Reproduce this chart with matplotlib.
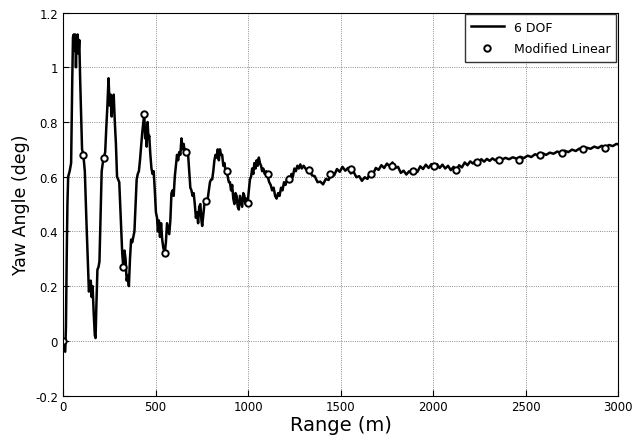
import numpy as np
import matplotlib
matplotlib.use("Agg")
import matplotlib.pyplot as plt
from matplotlib.ticker import FuncFormatter

# 6 DOF trajectory (two pieces)
range_early = [
    0, 6, 12, 16, 20, 24, 28, 36, 44, 50, 54, 58, 62, 66, 70, 74, 79, 84, 88, 93,
    98, 103, 110, 118, 126, 134, 140, 146, 150, 155, 160, 166, 172, 176, 180, 186,
    192, 197, 203, 209, 215, 221, 228, 234, 240, 246, 252, 258, 263, 268, 274, 280,
    286, 292, 298, 304, 312, 320, 326, 332, 338, 344, 350, 356, 362, 368, 374, 380,
    386, 392, 398, 404, 410, 416, 422, 428, 434, 439, 444, 448, 452, 457, 462, 466,
    472, 478, 484, 490, 496, 502, 508, 513, 518, 524, 530, 536, 542, 550, 556, 562,
    568, 574, 580, 586, 592, 598, 604, 610, 616, 622, 628, 634, 640, 646, 652, 658,
    664, 670, 676, 682, 688, 694, 700, 706, 712, 718, 724, 730, 736, 742, 748, 752,
    758, 764, 770, 776, 782, 788, 794, 800, 806, 812, 818, 824, 830, 836, 842, 848,
    854, 860, 866, 872, 878, 884, 890, 896, 902, 908, 914, 920, 926, 932, 938, 944,
    950, 956, 962, 968, 974, 980, 986, 992, 998, 1004, 1010, 1016, 1022, 1028, 1034,
    1040, 1046, 1052, 1058, 1064, 1070, 1076, 1082, 1090, 1098, 1106, 1114, 1122,
    1130, 1138, 1146, 1154, 1162, 1170, 1178, 1186, 1194, 1202, 1210, 1218, 1226,
    1234, 1242, 1250, 1258, 1266, 1274, 1282, 1290,
]
yaw_early = [
    0.0, -0.02, -0.04, 0.05, 0.30, 0.50, 0.60, 0.62, 0.65, 0.95, 1.11, 1.12, 1.06, 1.12, 1.00, 1.10, 1.12, 1.05, 1.10, 0.95,
    0.82, 0.70, 0.68, 0.62, 0.45, 0.30, 0.18, 0.20, 0.22, 0.16, 0.20, 0.10, 0.02, 0.01, 0.12, 0.26,
    0.27, 0.29, 0.45, 0.62, 0.65, 0.67, 0.69, 0.78, 0.86, 0.96, 0.86, 0.90, 0.82, 0.88, 0.90, 0.80,
    0.72, 0.60, 0.59, 0.58, 0.45, 0.32, 0.27, 0.33, 0.30, 0.22, 0.24, 0.20, 0.30, 0.37, 0.36, 0.38,
    0.40, 0.50, 0.59, 0.61, 0.62, 0.66, 0.71, 0.76, 0.80, 0.83, 0.74, 0.78, 0.71, 0.80, 0.74, 0.75,
    0.68, 0.63, 0.61, 0.62, 0.55, 0.47, 0.45, 0.40, 0.44, 0.38, 0.43, 0.37, 0.34, 0.32, 0.36, 0.43,
    0.41, 0.39, 0.44, 0.54, 0.55, 0.53, 0.60, 0.64, 0.68, 0.66, 0.69, 0.68, 0.74, 0.70, 0.72, 0.69,
    0.70, 0.68, 0.68, 0.62, 0.56, 0.55, 0.53, 0.54, 0.50, 0.45, 0.47, 0.43, 0.49, 0.50, 0.44, 0.42,
    0.46, 0.50, 0.51, 0.51, 0.52, 0.55, 0.58, 0.59, 0.59, 0.62, 0.66, 0.68, 0.67, 0.70, 0.66, 0.70,
    0.68, 0.68, 0.64, 0.65, 0.62, 0.62, 0.60, 0.58, 0.58, 0.55, 0.57, 0.52, 0.50, 0.54, 0.53, 0.49,
    0.48, 0.53, 0.51, 0.49, 0.54, 0.53, 0.50, 0.52, 0.505, 0.55, 0.59, 0.60, 0.63, 0.61, 0.65,
    0.63, 0.66, 0.64, 0.67, 0.65, 0.64, 0.62, 0.63, 0.61, 0.62, 0.60, 0.58, 0.57,
    0.55, 0.56, 0.53, 0.52, 0.54, 0.53, 0.56, 0.55, 0.58, 0.57, 0.59, 0.60, 0.59,
    0.61, 0.60, 0.63, 0.62, 0.64, 0.63, 0.645, 0.63,
]
range_late = [
    1300, 1315, 1330, 1345, 1360, 1375, 1390, 1405, 1420, 1435, 1450, 1465, 1480,
    1495, 1510, 1525, 1540, 1555, 1570, 1585, 1600, 1615, 1630, 1645, 1660, 1675,
    1690, 1705, 1720, 1735, 1750, 1765, 1780, 1795, 1810, 1825, 1840, 1855, 1870,
    1885, 1900, 1915, 1930, 1945, 1960, 1975, 1990, 2005, 2020, 2035, 2050, 2065,
    2080, 2095, 2110, 2125, 2140, 2155, 2170, 2185, 2200, 2215, 2230, 2245, 2260,
    2275, 2290, 2305, 2320, 2335, 2350, 2370, 2390, 2410, 2430, 2450, 2470, 2490,
    2510, 2530, 2550, 2570, 2590, 2610, 2630, 2650, 2670, 2690, 2710, 2730, 2750,
    2770, 2790, 2810, 2830, 2850, 2870, 2890, 2910, 2930, 2950, 2970, 2990, 3000,
]
yaw_late = [
    0.64, 0.625, 0.632, 0.605, 0.602, 0.58, 0.582, 0.572, 0.592, 0.588, 0.612, 0.605, 0.628,
    0.618, 0.636, 0.622, 0.632, 0.612, 0.618, 0.598, 0.602, 0.585, 0.598, 0.592, 0.615, 0.61,
    0.632, 0.625, 0.642, 0.632, 0.648, 0.638, 0.652, 0.632, 0.636, 0.614, 0.622, 0.608, 0.62,
    0.61, 0.628, 0.618, 0.638, 0.628, 0.644, 0.632, 0.646, 0.635, 0.646, 0.632, 0.644, 0.63,
    0.64, 0.624, 0.636, 0.622, 0.642, 0.634, 0.652, 0.642, 0.656, 0.648, 0.66, 0.652, 0.664,
    0.655, 0.665, 0.658, 0.667, 0.66, 0.668, 0.662, 0.669, 0.664, 0.671, 0.666, 0.673, 0.668,
    0.677, 0.672, 0.682, 0.677, 0.686, 0.68, 0.688, 0.684, 0.692, 0.687, 0.695, 0.69, 0.699,
    0.694, 0.703, 0.698, 0.706, 0.702, 0.71, 0.705, 0.713, 0.708, 0.716, 0.712, 0.72, 0.718,
]

# Modified linear theory points
range_lin = [0, 110, 221, 326, 439, 550, 662, 775, 884, 998, 1108, 1220, 1330, 1443,
             1555, 1665, 1778, 1890, 2005, 2122, 2236, 2353, 2466, 2579, 2696, 2811, 2926]
yaw_lin = [0.0, 0.68, 0.67, 0.27, 0.83, 0.32, 0.69, 0.51, 0.62, 0.505, 0.61, 0.59, 0.625, 0.61,
           0.63, 0.61, 0.64, 0.62, 0.64, 0.625, 0.655, 0.66, 0.66, 0.68, 0.685, 0.70, 0.706]

fig = plt.figure(figsize=(6.33, 4.39), dpi=100)
ax = fig.add_axes([0.0995, 0.0968, 0.8773, 0.8722])

ax.plot(range_early + range_late, yaw_early + yaw_late, color='black', lw=1.8, label='6 DOF')
ax.plot(range_lin, yaw_lin, ls='none', marker='o', ms=4.6, mfc='white', mec='black',
        mew=1.4, label='Modified Linear')

ax.set_xlim(0, 3000)
ax.set_ylim(-0.2, 1.2)
ax.set_xticks(np.arange(0, 3001, 500))
ax.set_yticks([-0.2, 0, 0.2, 0.4, 0.6, 0.8, 1.0, 1.2])
ax.yaxis.set_major_formatter(FuncFormatter(lambda v, p: f"{v:g}"))
ax.tick_params(labelsize=8.5, direction='in', length=4)
ax.grid(True, linestyle=':', color='black', lw=0.6, alpha=0.6)

ax.set_xlabel("Range (m)", fontsize=14, labelpad=1)
ax.set_ylabel("Yaw Angle (deg)", fontsize=12.5, labelpad=4)

leg = ax.legend(loc='upper right', fontsize=9, frameon=True, fancybox=False,
                edgecolor='black', borderaxespad=0.15, handlelength=2.6,
                labelspacing=0.7, borderpad=0.5)
leg.get_frame().set_linewidth(1.0)

fig.savefig("out.png", dpi=100)
